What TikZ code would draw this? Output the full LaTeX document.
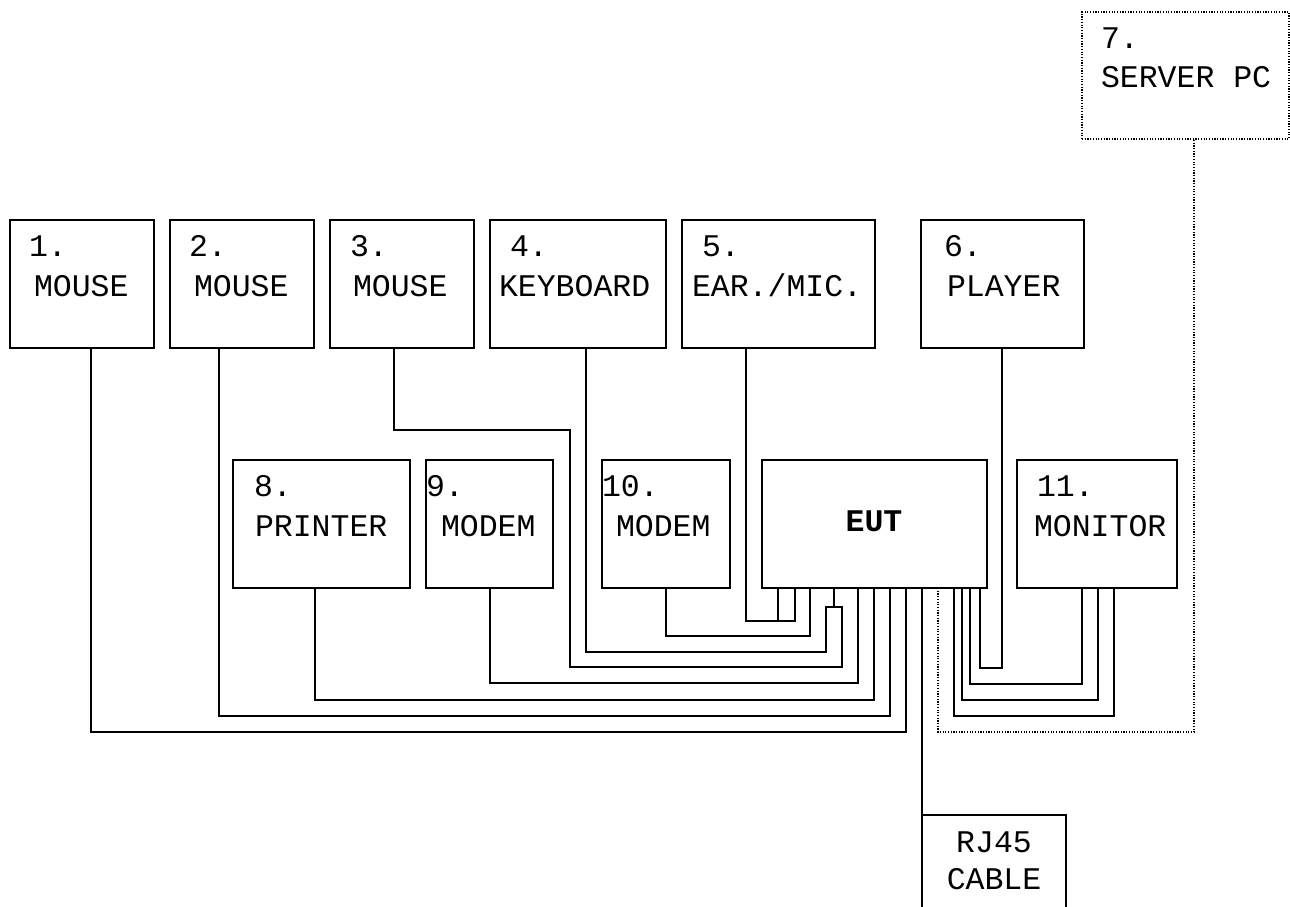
\documentclass[tikz,border=0pt]{standalone}
\usepackage{fontspec}
\setmainfont{Liberation Mono}
\begin{document}
\begin{tikzpicture}[x=1pt,y=-1pt,
  box/.style={draw, line width=1.6pt, inner sep=0pt, outer sep=0pt, anchor=north west},
  srvbox/.style={box, line width=1.3pt, dash pattern=on 1.2pt off 1.5pt},
  lbl/.style={inner sep=0pt, outer sep=0pt, anchor=base west, font=\fontsize{31.5}{38}\selectfont},
  clbl/.style={lbl, anchor=base},
  wire/.style={line width=1.6pt},
  dotwire/.style={line width=1.3pt, dash pattern=on 1.2pt off 1.5pt}]
\useasboundingbox (0,0) rectangle (1290,906);
\clip (0,0) rectangle (1290,906);
% boxes, top row
\node[box, minimum width=144pt, minimum height=128pt] (b1) at (10,220) {};
\node[box, minimum width=144pt, minimum height=128pt] (b2) at (170,220) {};
\node[box, minimum width=144pt, minimum height=128pt] (b3) at (330,220) {};
\node[box, minimum width=176pt, minimum height=128pt] (b4) at (490,220) {};
\node[box, minimum width=193pt, minimum height=128pt] (b5) at (682,220) {};
\node[box, minimum width=163pt, minimum height=128pt] (b6) at (921,220) {};
\node[srvbox, minimum width=207pt, minimum height=127pt] (srv) at (1082,12) {};
% boxes, second row
\node[box, minimum width=177pt, minimum height=128pt] (b8) at (233,460) {};
\node[box, minimum width=127pt, minimum height=128pt] (b9) at (426,460) {};
\node[box, minimum width=128pt, minimum height=128pt] (b10) at (602,460) {};
\node[box, minimum width=225pt, minimum height=128pt] (eut) at (762,460) {};
\node[box, minimum width=160pt, minimum height=128pt] (b11) at (1017,460) {};
\node[box, minimum width=144pt, minimum height=100pt] (rj) at (922,815) {};
% labels
\node[lbl] (t1a) at (29,256) {1.};
\node[lbl] (t1b) at (34,296) {MOUSE};
\node[lbl] (t2a) at (189,256) {2.};
\node[lbl] (t2b) at (194,296) {MOUSE};
\node[lbl] (t3a) at (350,256) {3.};
\node[lbl] (t3b) at (353,296) {MOUSE};
\node[lbl] (t4a) at (510,256) {4.};
\node[lbl] (t4b) at (499,296) {KEYBOARD};
\node[lbl] (t5a) at (702,256) {5.};
\node[lbl] (t5b) at (692,296) {EAR./MIC.};
\node[lbl] (t6a) at (944,256) {6.};
\node[lbl] (t6b) at (947,296) {PLAYER};
\node[lbl] (t7a) at (1101,48) {7.};
\node[lbl] (t7b) at (1101,87) {SERVER PC};
\node[lbl] (t8a) at (254,496) {8.};
\node[lbl] (t8b) at (255,536) {PRINTER};
\node[lbl] (t9a) at (426,496) {9.};
\node[lbl] (t9b) at (441,536) {MODEM};
\node[lbl] (t10a) at (602,496) {10.};
\node[lbl] (t10b) at (616,536) {MODEM};
\node[lbl] (t11a) at (1037,496) {11.};
\node[lbl] (t11b) at (1034,536) {MONITOR};
\node[clbl, font=\fontsize{31.5}{38}\selectfont\bfseries] (teut) at (874,531) {EUT};
\node[clbl] (trja) at (994,852) {RJ45};
\node[clbl] (trjb) at (994,889) {CABLE};
% wires
\draw[wire] (b1.south -| 91,0) -- (91,732) -| (eut.south -| 906,0);
\draw[wire] (b2.south -| 219,0) -- (219,716) -| (eut.south -| 890,0);
\draw[wire] (b8.south -| 315,0) -- (315,700) -| (eut.south -| 874,0);
\draw[wire] (b9.south -| 490,0) -- (490,683) -| (eut.south -| 858,0);
\draw[wire] (b3.south -| 394,0) |- (570,430) |- (842,667) -- (842,607) -| (eut.south -| 834,0);
\draw[wire] (b4.south -| 586,0) |- (826,652) -- (826,607) -- (834,607);
\draw[wire] (b10.south -| 666,0) |- (810,636) -- (eut.south -| 810,0);
\draw[wire] (b5.south -| 746,0) |- (795,621) -- (eut.south -| 795,0);
\draw[wire] (eut.south -| 778,0) -- (778,621);
\draw[wire] (eut.south -| 922,0) -- (rj.north west);
\draw[dotwire] (eut.south -| 938,0) -- (938,732) -| (srv.south -| 1194,0);
\draw[wire] (b6.south -| 1002,0) -- (1002,668) -| (eut.south -| 980,0);
\draw[wire] (b11.south -| 1082,0) |- (970,684) -- (eut.south -| 970,0);
\draw[wire] (b11.south -| 1098,0) |- (962,700) -- (eut.south -| 962,0);
\draw[wire] (b11.south -| 1114,0) |- (954,716) -- (eut.south -| 954,0);
\end{tikzpicture}
\end{document}
